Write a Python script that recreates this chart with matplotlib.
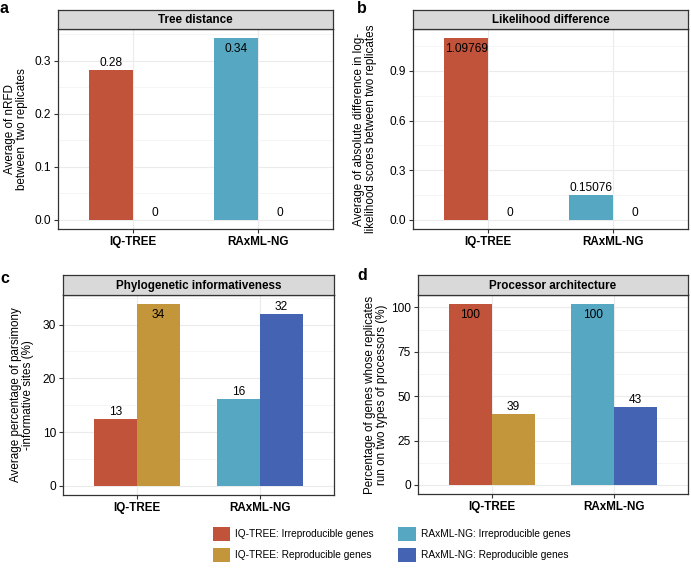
import matplotlib
matplotlib.use("Agg")
import matplotlib.pyplot as plt
from matplotlib.patches import Patch
import numpy as np

plt.rcParams["font.family"] = ["Liberation Sans", "DejaVu Sans"]

tools = ["IQ-TREE", "RAxML-NG"]
colors = {"IQ-TREE": ["#C1533B", "#C4963B"], "RAxML-NG": ["#56A8C2", "#4563B3"]}

# values: [irreproducible, reproducible] per tool
tree_dist = [[0.283, 0.0], [0.343, 0.0]]
tree_lab = [["0.28", "0"], ["0.34", "0"]]
lik_diff = [[1.09769, 0.0], [0.15076, 0.0]]
lik_lab = [["1.09769", "0"], ["0.15076", "0"]]
pis = [[12.5, 33.8], [16.1, 32.0]]
pis_lab = [["13", "34"], ["16", "32"]]
proc = [[101.9, 39.8], [101.9, 43.9]]
proc_lab = [["100", "39"], ["100", "43"]]

W, H = 691, 571
fig = plt.figure(figsize=(W / 100, H / 100), dpi=100)


def panel(box, strip_h, title, vals, labs, ticks, fmt, ylabel, lab_x, letter, letter_xy):
    x0, top, w, h = box
    ax = fig.add_axes([x0 / W, (H - top - h) / H, w / W, h / H])
    sax = fig.add_axes([x0 / W, (H - top) / H, w / W, strip_h / H])
    sax.set_facecolor("#D9D9D9")
    sax.set_xticks([]); sax.set_yticks([])
    for s in sax.spines.values():
        s.set_color("#333333"); s.set_linewidth(0.9)
    sax.text(0.5, 0.45, title, ha="center", va="center", fontsize=8.4,
             fontweight="bold", transform=sax.transAxes)

    vals = np.array(vals)
    vmax = vals.max()
    bw = 0.35
    for i, tool in enumerate(tools):
        for j in range(2):
            xpos = i + 1 + (j - 0.5) * bw
            v = vals[i, j]
            ax.bar(xpos, v, width=bw, color=colors[tool][j], zorder=2,
                   edgecolor="none")
            if v >= vmax * 0.995:
                ax.annotate(labs[i][j], (xpos, v), xytext=(0, -3.5),
                            textcoords="offset points", ha="center", va="top",
                            fontsize=8.6, zorder=3)
            else:
                ax.annotate(labs[i][j], (xpos, v), xytext=(0, 0.6),
                            textcoords="offset points", ha="center", va="bottom",
                            fontsize=8.6, zorder=3)

    ax.set_xlim(0.4, 2.6)
    ax.set_ylim(-0.05 * vmax, 1.05 * vmax)
    ax.set_xticks([1, 2])
    ax.set_xticklabels(tools, fontweight="bold", fontsize=8.4)
    ax.set_yticks(ticks)
    ax.set_yticklabels([fmt.format(t) for t in ticks], fontsize=8.6)
    step = ticks[1] - ticks[0]
    ax.set_yticks(np.arange(ticks[0] + step / 2, 1.05 * vmax, step), minor=True)
    ax.tick_params(axis="y", which="minor", length=0)
    ax.tick_params(which="major", length=3, width=0.8, color="#333333",
                   labelcolor="black", pad=2)
    ax.grid(which="major", color="#EBEBEB", lw=0.8, zorder=0)
    ax.grid(which="minor", axis="y", color="#F2F2F2", lw=0.5, zorder=0)
    ax.set_axisbelow(True)
    for s in ax.spines.values():
        s.set_color("#333333"); s.set_linewidth(0.9)
    ax.set_ylabel(ylabel, fontsize=8.4, linespacing=1.05)
    ax.yaxis.set_label_coords(lab_x, 0.5)
    fig.text(letter_xy[0] / W, 1 - letter_xy[1] / H, letter, fontsize=11.5,
             fontweight="bold", ha="left", va="top")
    return ax


panel((58, 29, 275, 200), 19, "Tree distance", tree_dist, tree_lab,
      [0.0, 0.1, 0.2, 0.3], "{:.1f}", "Average of nRFD\nbetween  two replicates",
      -0.108, "a", (0, 1))
panel((413, 29, 275, 200), 19, "Likelihood difference", lik_diff, lik_lab,
      [0.0, 0.3, 0.6, 0.9], "{:.1f}",
      "Average of absolute difference in log-\nlikelihood scores between two replicates",
      -0.131, "b", (357, 1))
panel((63, 295, 271, 200), 20, "Phylogenetic informativeness", pis, pis_lab,
      [0, 10, 20, 30], "{:d}",
      "Average percentage of parsimony\n-informative sites (%)",
      -0.107, "c", (0, 271))
panel((418, 295, 270, 199), 20, "Processor architecture", proc, proc_lab,
      [0, 25, 50, 75, 100], "{:d}",
      "Percentage of genes whose replicates\nrun on two types of processors (%)",
      -0.111, "d", (357, 268))

names = ["IQ-TREE: Irreproducible genes", "IQ-TREE: Reproducible genes",
         "RAxML-NG: Irreproducible genes", "RAxML-NG: Reproducible genes"]
cols = [colors["IQ-TREE"][0], colors["IQ-TREE"][1],
        colors["RAxML-NG"][0], colors["RAxML-NG"][1]]
handles = [Patch(facecolor=c, edgecolor="none", label=n) for c, n in zip(cols, names)]
fig.legend(handles=handles, ncol=2, loc="upper left",
           bbox_to_anchor=(213 / W, 1 - 527 / H), frameon=False, fontsize=7.3,
           handlelength=1.7, handleheight=1.7, handletextpad=0.5,
           labelspacing=0.75, columnspacing=2.4, borderpad=0, borderaxespad=0)

fig.savefig("out.png", dpi=100)
